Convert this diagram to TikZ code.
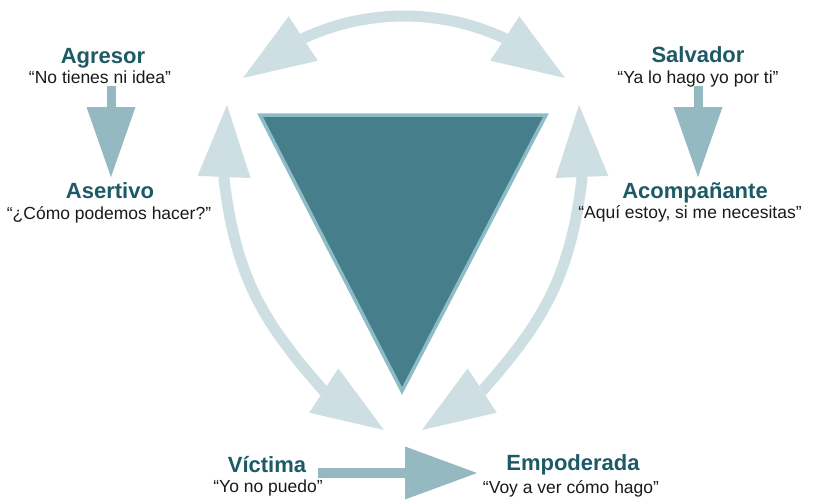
\documentclass[tikz,border=0pt]{standalone}
\usepackage{fontspec}
\setmainfont{Liberation Sans}
\usetikzlibrary{arrows.meta}
\definecolor{arcc}{HTML}{CEDFE3}
\definecolor{strc}{HTML}{94B9C0}
\definecolor{trifill}{HTML}{467F8B}
\definecolor{tribord}{HTML}{8CBCC5}
\definecolor{titc}{HTML}{1D5A66}
\definecolor{subc}{HTML}{1A1A1A}
\tikzset{
  ttl/.style={font=\fontsize{22}{26}\selectfont\bfseries, text=titc, anchor=base, inner sep=0pt},
  sub/.style={font=\fontsize{17.5}{21}\selectfont, text=subc, anchor=base, inner sep=0pt},
  arcarrow/.style={draw=arcc, line width=11pt,
    {Triangle[length=72pt,width=53pt,line width=0pt]}-{Triangle[length=72pt,width=53pt,line width=0pt]}},
  strarrow/.style={draw=strc, line width=9pt,
    -{Triangle[length=70pt,width=49pt,line width=0pt]}},
  hzarrow/.style={draw=strc, line width=10pt,
    -{Triangle[length=72pt,width=53pt,line width=0pt]}},
  tri/.style={fill=trifill, draw=tribord, line width=3.5pt, line join=miter}
}
\begin{document}
\begin{tikzpicture}[x=1pt,y=-1pt]
\useasboundingbox[fill=white] (0,0) rectangle (815,501);

% central triangle
\draw[tri] (260,115) -- (546,115) -- (402,391) -- cycle;

% circular double arrows (tip, head base, ..., head base, tip)
\coordinate (tL) at (243,78);
\coordinate (tLb) at (304,38);
\coordinate (tRb) at (504,38);
\coordinate (tR) at (565,78);
\coordinate (lT) at (227,105);
\coordinate (lTb) at (224,179);
\coordinate (lBb) at (323,390);
\coordinate (lB) at (384,430);
\coordinate (rT) at (579,105);
\coordinate (rTb) at (582,179);
\coordinate (rBb) at (483,390);
\coordinate (rB) at (422,430);
\draw[arcarrow] (tL) -- (tLb) .. controls (367.5,8.7) and (440.5,8.7) .. (tRb) -- (tR);
\draw[arcarrow] (lT) -- (lTb) .. controls (236,278) and (263.6,322.5) .. (lBb) -- (lB);
\draw[arcarrow] (rT) -- (rTb) .. controls (570,278) and (542.4,322.5) .. (rBb) -- (rB);

% labels
\node[ttl] (agresor) at (103,63) {Agresor};
\node[sub] (agresorq) at (100,83) {“No tienes ni idea”};
\node[ttl] (asertivo) at (110,198) {Asertivo};
\node[sub] (asertivoq) at (109,219) {“¿Cómo podemos hacer?”};
\node[ttl] (salvador) at (698,62) {Salvador};
\node[sub] (salvadorq) at (698,83) {“Ya lo hago yo por ti”};
\node[ttl] (acomp) at (695,198) {Acompañante};
\node[sub] (acompq) at (690,218) {“Aquí estoy, si me necesitas”};
\node[ttl] (victima) at (267,472) {Víctima};
\node[sub] (victimaq) at (268,492) {“Yo no puedo”};
\node[ttl] (empod) at (573,470) {Empoderada};
\node[sub] (empodq) at (571,493) {“Voy a ver cómo hago”};

% straight arrows
\coordinate (a1s) at (111,86);
\coordinate (a1e) at (111,177);
\coordinate (a2s) at (698,86);
\coordinate (a2e) at (698,177);
\coordinate (a3s) at (318,473);
\coordinate (a3e) at (477,473);
\draw[strarrow] (a1s) -- (a1e);
\draw[strarrow] (a2s) -- (a2e);
\draw[hzarrow] (a3s) -- (a3e);
\end{tikzpicture}
\end{document}
